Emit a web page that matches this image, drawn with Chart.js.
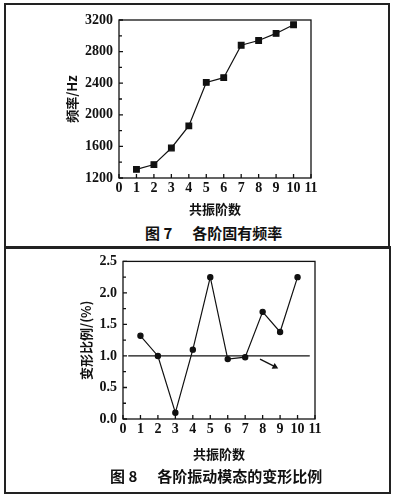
<!DOCTYPE html>
<html>
<head>
<meta charset="utf-8">
<script src="https://cdn.jsdelivr.net/npm/chart.js@4.4.0/dist/chart.umd.min.js"></script>
<style>
body { margin: 0; background: #fff; width: 397px; height: 498px; position: relative; overflow: hidden; }
.box { position: absolute; border: 2px solid #222; box-sizing: border-box; }
.wrap { position: absolute; left: 0; width: 397px; height: 222px; }
.cap { position: absolute; font-family: "Noto Sans CJK SC"; font-weight: bold; font-size: 15px; line-height: 15px; color: #111; white-space: nowrap; }
</style>
</head>
<body>
<div class="box" style="left:4px;top:3px;width:386px;height:246px"></div>
<div class="box" style="left:4px;top:246px;width:387px;height:248px"></div>
<div class="wrap" style="top:0"><canvas id="c7"></canvas></div>
<div class="wrap" style="top:247px"><canvas id="c8"></canvas></div>
<div class="cap" style="left:145px;top:225px">图 7<span style="margin-left:20px">各阶固有频率</span></div>
<div class="cap" style="left:110px;top:468px">图 8<span style="margin-left:20px">各阶振动模态的变形比例</span></div>
<script>
// mode numbers on the x axis
const modes = [1, 2, 3, 4, 5, 6, 7, 8, 9, 10];
// fig 7: natural frequency per mode (Hz)
const freq_hz = [1310, 1370, 1580, 1860, 2410, 2470, 2880, 2940, 3030, 3140];
// fig 8: deformation ratio per mode (%)
const ratio_pct = [1.32, 1.0, 0.1, 1.1, 2.25, 0.95, 0.98, 1.7, 1.38, 2.25];
// the 1.0 reference line and the little pointer next to it
const ref_x = [0.3, 10.7];
const ref_y = [1.0, 1.0];
const arrow_x = [7.85, 8.7];
const arrow_y = [0.95, 0.83];

// tick labels
const x_ticks = [0, 1, 2, 3, 4, 5, 6, 7, 8, 9, 10, 11];
const freq_ticks = [1200, 1600, 2000, 2400, 2800, 3200];
const ratio_ticks = [0, 0.5, 1.0, 1.5, 2.0, 2.5];

const ink = "#111";

function pts(xs, ys) {
  return xs.map((x, i) => ({x: x, y: ys[i]}));
}

// box round the plot + ticks pointing inwards
const frame_ticks = {
  id: "frame_ticks",
  beforeDatasetsDraw(chart) {
    const ctx = chart.ctx;
    const a = chart.chartArea;
    const xs = chart.scales.x, ys = chart.scales.y;
    ctx.save();
    ctx.strokeStyle = ink;
    ctx.lineWidth = 1.3;
    ctx.strokeRect(a.left, a.top, a.right - a.left, a.bottom - a.top);
    ctx.beginPath();
    for (const t of xs.ticks) {
      const px = xs.getPixelForValue(t.value);
      ctx.moveTo(px, a.bottom);
      ctx.lineTo(px, a.bottom - 4);
    }
    const yt = ys.ticks.map(t => t.value);
    for (let i = 0; i < yt.length; i++) {
      let py = ys.getPixelForValue(yt[i]);
      ctx.moveTo(a.left, py);
      ctx.lineTo(a.left + 4, py);
      if (i < yt.length - 1) {
        py = ys.getPixelForValue((yt[i] + yt[i + 1]) / 2);
        ctx.moveTo(a.left, py);
        ctx.lineTo(a.left + 3, py);
      }
    }
    ctx.stroke();
    ctx.restore();
  }
};

function make_chart(el, datasets, ycfg, pad, xh, ytitle_pad) {
  return new Chart(document.getElementById(el), {
    type: "line",
    data: {datasets: datasets},
    plugins: [frame_ticks],
    options: {
      responsive: true,
      maintainAspectRatio: false,
      animation: false,
      layout: {padding: pad},
      plugins: {legend: {display: false}, tooltip: {enabled: false}},
      scales: {
        x: {
          type: "linear", min: 0, max: 11,
          afterBuildTicks: s => { s.ticks = x_ticks.map(v => ({value: v})); },
          afterFit: s => { s.height = xh; },
          grid: {display: false, drawTicks: false},
          border: {display: false},
          ticks: {color: ink, padding: 2, autoSkip: false, maxRotation: 0,
                  font: {family: "Liberation Serif", size: 14, weight: "bold"}},
          title: {display: true, text: "共振阶数", color: ink, padding: {top: 0, bottom: 1},
                  font: {family: "Noto Sans CJK SC", size: 13, weight: "bold"}}
        },
        y: {
          type: "linear", min: ycfg.min, max: ycfg.max,
          afterBuildTicks: s => { s.ticks = ycfg.ticks.map(v => ({value: v})); },
          afterFit: s => { s.width = 59; },
          grid: {display: false, drawTicks: false},
          border: {display: false},
          ticks: {color: ink, padding: 6, autoSkip: false, callback: ycfg.fmt,
                  font: {family: "Liberation Serif", size: 14, weight: "bold"}},
          title: {display: true, text: ycfg.title, color: ink, padding: {top: ytitle_pad, bottom: 0},
                  font: {family: "Noto Sans CJK SC", size: 13, weight: "bold"}}
        }
      }
    }
  });
}

make_chart("c7", [
  {data: pts(modes, freq_hz), borderColor: ink, backgroundColor: ink, borderWidth: 1.2,
   pointStyle: "rect", pointRadius: 4, tension: 0}
], {min: 1200, max: 3200, ticks: freq_ticks, title: "频率/Hz", fmt: v => String(v)},
  {left: 60, right: 86, top: 20, bottom: 4}, 40, 4);

make_chart("c8", [
  {data: pts(ref_x, ref_y), borderColor: ink, borderWidth: 1.3, pointRadius: 0},
  {data: pts(arrow_x, arrow_y), borderColor: ink, backgroundColor: ink, borderWidth: 1.3,
   pointStyle: "triangle", pointRotation: 117, pointRadius: [0, 2.5]},
  {data: pts(modes, ratio_pct), borderColor: ink, backgroundColor: ink, borderWidth: 1.2,
   pointStyle: "circle", pointRadius: 2.6, tension: 0}
], {min: 0, max: 2.5, ticks: ratio_ticks, title: "变形比例/(%)", fmt: v => v.toFixed(1)},
  {left: 64, right: 82, top: 14, bottom: 6}, 44, 14);
</script>
</body>
</html>
